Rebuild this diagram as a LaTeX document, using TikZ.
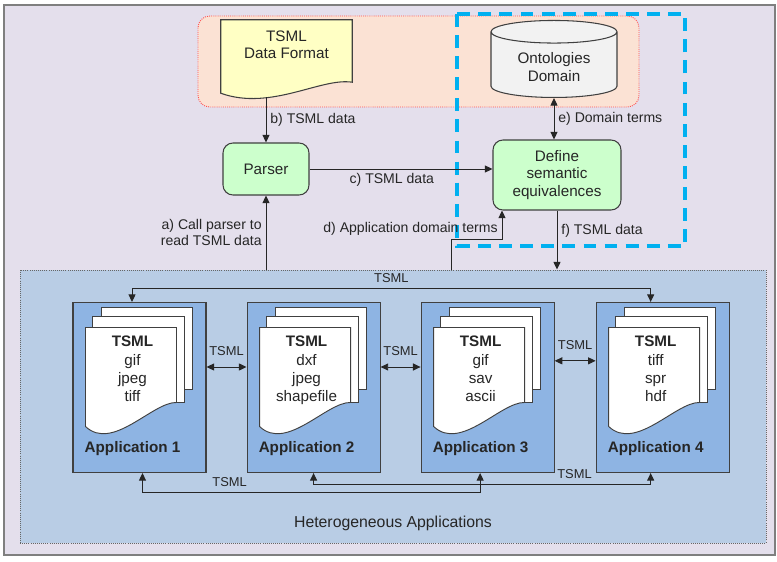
\documentclass[tikz,border=0pt]{standalone}
\usepackage{fontspec}
\setmainfont{Liberation Sans}
\usepackage{tikz}
\usetikzlibrary{shapes.geometric,arrows.meta,positioning,calc}

\definecolor{framebg}{HTML}{E4DFEC}
\definecolor{framegray}{HTML}{7F7F7F}
\definecolor{srcbg}{HTML}{FBE2D4}
\definecolor{srcred}{HTML}{FF5050}
\definecolor{ontoblue}{HTML}{00B0F0}
\definecolor{docyellow}{HTML}{FFFFC4}
\definecolor{cylgray}{HTML}{F2F2F2}
\definecolor{procgreen}{HTML}{CCFFCC}
\definecolor{hetbg}{HTML}{B9CDE5}
\definecolor{appblue}{HTML}{8EB4E3}
\definecolor{edge}{HTML}{404040}

\tikzstyle{process} = [rectangle, rounded corners=0.3cm, draw=edge, line width=0.9pt, fill=procgreen, text centered, align=center, font=\fontsize{13}{15}\selectfont]
\tikzstyle{database} = [cylinder, shape border rotate=90, aspect=0.28, draw=edge, line width=0.9pt, fill=cylgray, align=center, font=\fontsize{13}{15.3}\selectfont]
\tikzstyle{docarea} = [rectangle, minimum width=3.93cm, minimum height=2.31cm]
\tikzstyle{appbox} = [rectangle, draw=edge, line width=0.9pt, fill=appblue, minimum width=3.99cm, minimum height=5.1cm]
\tikzstyle{page} = [draw=edge, line width=0.8pt, fill=white]
\tikzstyle{pagetext} = [inner sep=0pt, align=center, font=\fontsize{13}{15.6}\selectfont]
\tikzstyle{appname} = [inner sep=0pt, font=\fontsize{13}{15}\selectfont\bfseries]
\tikzstyle{lbl} = [font=\fontsize{12}{14}\selectfont]
\tikzstyle{tsml} = [font=\fontsize{11}{13}\selectfont]
\tikzstyle{arrow} = [line width=0.8pt, draw=black!85, ->, >={Triangle[length=6.5pt,width=6pt]}]
\tikzstyle{dblarrow} = [arrow, <->]

\newcommand{\pagestack}[1]{%
  \begin{scope}[shift={(#1.north west)}]
    \filldraw[page] (29,5.5) rectangle (120,87.5);
    \filldraw[page] (20,14.5) rectangle (112,100);
    \filldraw[page] (13,25.5) -- (104,25.5) -- (104,100.5)
      .. controls (80,100) and (40,150) .. (13,124.5) -- cycle;
  \end{scope}}

\begin{document}
\begin{tikzpicture}[x=0.03cm, y=-0.03cm, text=black!85]
\useasboundingbox (0,0) rectangle (777,562);
% frame and zones
\draw[draw=framegray, fill=framebg, line width=1.5pt] (4,5) rectangle (775,555);
\draw[draw=srcred, fill=srcbg, densely dotted, line width=0.8pt, rounded corners=0.35cm] (198,16) rectangle (639,107);
\draw[draw=ontoblue, line width=3pt, dash pattern=on 11pt off 7pt] (457,14) rectangle (685,246);

% sources
\node (tsmlfmt) [docarea] at (286.5,58.5) {};
\filldraw[draw=edge, line width=0.9pt, fill=docyellow] (tsmlfmt.north west) -- (tsmlfmt.north east) -- ($(tsmlfmt.south east)+(0,-15)$)
  .. controls ($(tsmlfmt.south east)+(-31,-20)$) and ($(tsmlfmt.south west)+(50,14)$) .. ($(tsmlfmt.south west)+(0,-4)$) -- cycle;
\node (tsmltxt) [pagetext, font=\fontsize{13}{14}\selectfont, below=0.33cm of tsmlfmt.north] {TSML\\Data Format};
\node (ontology) [database, minimum width=3.78cm, minimum height=2.31cm, anchor=south] at (554,98) {Ontologies\\Domain};

% processes
\node (parser) [process, minimum width=2.58cm, minimum height=1.56cm] at (266,169) {Parser};
\node (define) [process, minimum width=3.84cm, minimum height=2.1cm] at (557,175) {Define\\semantic\\equivalences};

% applications
\node (hetero) [rectangle, draw=edge!80, densely dotted, line width=0.8pt, fill=hetbg, minimum width=22.38cm, minimum height=8.19cm] at (393,406.5) {};
\node (heterolbl) [inner sep=0pt, font=\fontsize{13.5}{15}\selectfont, above=0.36cm of hetero.south] {Heterogeneous Applications};

\node (app1) [appbox] at (139.5,387.5) {};
\pagestack{app1}
\node (app1txt) [pagetext, below=1.02cm of app1.north, xshift=-0.21cm] {\textbf{TSML}\\gif\\jpeg\\tiff};
\node (app1lbl) [appname, above=0.5cm of app1.south, xshift=-0.21cm] {Application 1};

\node (app2) [appbox, right=1.2cm of app1] {};
\pagestack{app2}
\node (app2txt) [pagetext, below=1.02cm of app2.north, xshift=-0.21cm] {\textbf{TSML}\\dxf\\jpeg\\shapefile};
\node (app2lbl) [appname, above=0.5cm of app2.south, xshift=-0.21cm] {Application 2};

\node (app3) [appbox, right=1.2cm of app2] {};
\pagestack{app3}
\node (app3txt) [pagetext, below=1.02cm of app3.north, xshift=-0.21cm] {\textbf{TSML}\\gif\\sav\\ascii};
\node (app3lbl) [appname, above=0.5cm of app3.south, xshift=-0.21cm] {Application 3};

\node (app4) [appbox, right=1.23cm of app3] {};
\pagestack{app4}
\node (app4txt) [pagetext, below=1.02cm of app4.north, xshift=-0.21cm] {\textbf{TSML}\\tiff\\spr\\hdf};
\node (app4lbl) [appname, above=0.5cm of app4.south, xshift=-0.21cm] {Application 4};

% flows
\draw [arrow] (parser.north |- tsmlfmt.south) -- node[right, lbl] {b) TSML data} (parser.north);
\draw [arrow] (parser.east) -- node[below, lbl, pos=0.45] {c) TSML data} (parser.east -| define.west);
\draw [dblarrow] (ontology.south) -- node[right, lbl] {e) Domain terms} (ontology.south |- define.north);
\draw [arrow] (define.south) -- node[right, lbl, pos=0.35] {f) TSML data} (define.south |- hetero.north);
\draw [arrow] (hetero.north -| parser.south) -- node[left, lbl, align=right] {a) Call parser to\\read TSML data} (parser.south);
\draw [arrow] ([xshift=1.74cm]hetero.north) -- ++(0,-30) -| node[pos=0.5, anchor=south east, lbl] {d) Application domain terms} ([xshift=-1.65cm]define.south);

% exchanges between applications
\draw [dblarrow] (app1.95) -- ++(0,-14) -| node[pos=0.25, above=1pt, tsml] {TSML} (app4.98);
\draw [dblarrow] ([yshift=0.615cm]app1.east) -- node[above=2mm, tsml] {TSML} ([yshift=0.615cm]app2.west);
\draw [dblarrow] ([yshift=0.615cm]app2.east) -- node[above=2mm, tsml] {TSML} ([yshift=0.615cm]app3.west);
\draw [dblarrow] ([yshift=0.8cm]app3.east) -- node[above=2mm, tsml] {TSML} ([yshift=0.8cm]app4.west);
\draw [dblarrow] (app1.272) -- ++(0,19.5) -| node[pos=0.129, above=1pt, tsml] {TSML} (app3.265);
\draw [dblarrow] (app2.south) -- ++(0,11.5) -| node[pos=0.387, above=1pt, tsml] {TSML} (app4.262);
\end{tikzpicture}
\end{document}
